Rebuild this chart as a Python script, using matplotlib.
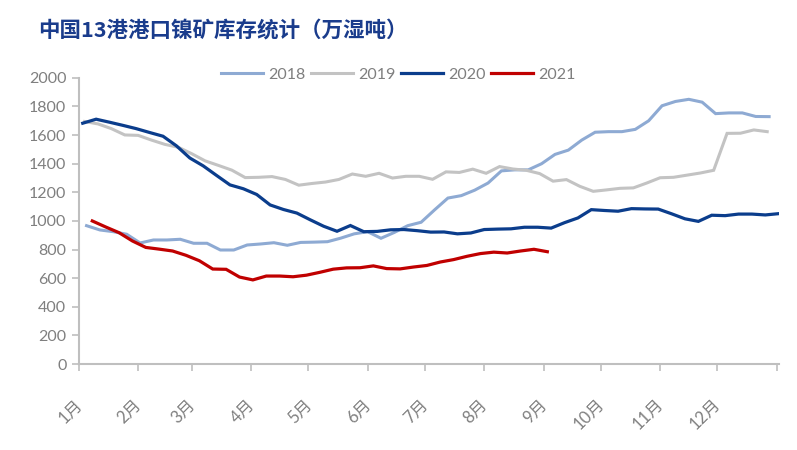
import matplotlib
matplotlib.use("Agg")
import matplotlib.pyplot as plt
import matplotlib.transforms as mtransforms
import pandas as pd

plt.rcParams['font.family'] = ['Lato', 'Noto Sans CJK SC', 'DejaVu Sans']

title = '中国13港港口镍矿库存统计（万湿吨）'
months = ['1月', '2月', '3月', '4月', '5月', '6月', '7月', '8月', '9月', '10月', '11月', '12月', '']

# weekly readings, first date of each year
start_2018 = '2018-01-05'
start_2019 = '2019-01-04'
start_2020 = '2020-01-03'
start_2021 = '2021-01-08'

v2018 = [967, 937, 925, 907, 846, 867, 867, 872, 844, 844, 797, 797, 832, 839, 848, 830,
         850, 852, 855, 880, 910, 925, 879, 920, 967, 991, 1077, 1160, 1177, 1215, 1265, 1350,
         1357, 1357, 1400, 1465, 1495, 1565, 1620, 1624, 1624, 1640, 1700, 1805, 1835, 1850,
         1830, 1750, 1755, 1755, 1730, 1729]
v2019 = [1695, 1678, 1645, 1601, 1598, 1565, 1535, 1515, 1470, 1420, 1388, 1355, 1303, 1305,
         1310, 1290, 1250, 1262, 1272, 1290, 1328, 1312, 1333, 1300, 1312, 1312, 1291, 1343,
         1339, 1362, 1333, 1380, 1363, 1354, 1331, 1278, 1289, 1242, 1207, 1217, 1228, 1231,
         1265, 1302, 1305, 1320, 1335, 1354, 1612, 1613, 1636, 1624]
v2020 = [1683, 1711, 1690, 1668, 1645, 1618, 1592, 1525, 1440, 1385, 1318, 1252, 1225, 1185,
         1112, 1080, 1055, 1008, 963, 928, 968, 925, 927, 938, 940, 932, 922, 923, 910, 916,
         940, 943, 945, 956, 956, 950, 988, 1021, 1079, 1073, 1068, 1086, 1084, 1083, 1050,
         1015, 997, 1040, 1037, 1048, 1048, 1042, 1051]
v2021 = [1000, 958, 918, 860, 815, 803, 790, 760, 722, 664, 662, 608, 588, 615, 615, 610,
         621, 641, 663, 672, 673, 686, 667, 665, 678, 689, 713, 730, 753, 772, 782, 776, 790,
         802, 785]

series = [('2018', start_2018, v2018, '#8eaad3', 2.2),
          ('2019', start_2019, v2019, '#c3c3c3', 2.2),
          ('2020', start_2020, v2020, '#0b3d8c', 2.3),
          ('2021', start_2021, v2021, '#c00000', 2.3)]

fig = plt.figure(figsize=(7.97, 4.5), dpi=100)
ax = fig.add_axes([0.099, 0.191, 0.878, 0.636])

for name, start, vals, color, lw in series:
    dates = pd.date_range(start, periods=len(vals), freq='7D')
    jan1 = pd.Timestamp(year=dates[0].year, month=1, day=1)
    days = (dates - jan1).days
    ax.plot(days, vals, color=color, lw=lw, label=name, solid_joinstyle='miter')

tick_days = (pd.date_range('2021-01-01', periods=13, freq='MS') - pd.Timestamp('2021-01-01')).days
ax.set_xticks(tick_days)
ax.set_xticklabels(months, rotation=45, ha='right', va='top', rotation_mode='anchor')
ax.set_xlim(0, 366)
ax.set_ylim(0, 2000)
ax.set_yticks(range(0, 2001, 200))

for s in ['top', 'right']:
    ax.spines[s].set_visible(False)
for s in ['left', 'bottom']:
    ax.spines[s].set_color('#bfbfbf')
    ax.spines[s].set_linewidth(1.5)
ax.tick_params(axis='both', colors='#bfbfbf', width=1.2, length=5, labelcolor='#7f7f7f',
               labelsize=11.5)
ax.tick_params(axis='x', pad=18, labelsize=12)
ax.tick_params(axis='y', pad=4)

shift = mtransforms.ScaledTranslation(-5 / 100, 0, fig.dpi_scale_trans)
for lab in ax.get_xticklabels():
    lab.set_transform(lab.get_transform() + shift)

leg = fig.legend(loc='center', bbox_to_anchor=(0.5, 0.834), ncol=4, frameon=False,
                 fontsize=11.5, handlelength=2.6, handletextpad=0.35, columnspacing=0.35,
                 labelcolor='#7f7f7f')

fig.text(0.048, 0.934, title, fontsize=15.5, fontweight='bold', color='#1a3c8c',
         family=['Noto Sans CJK SC', 'DejaVu Sans'], va='center', ha='left')

fig.savefig('out.png', dpi=100)
